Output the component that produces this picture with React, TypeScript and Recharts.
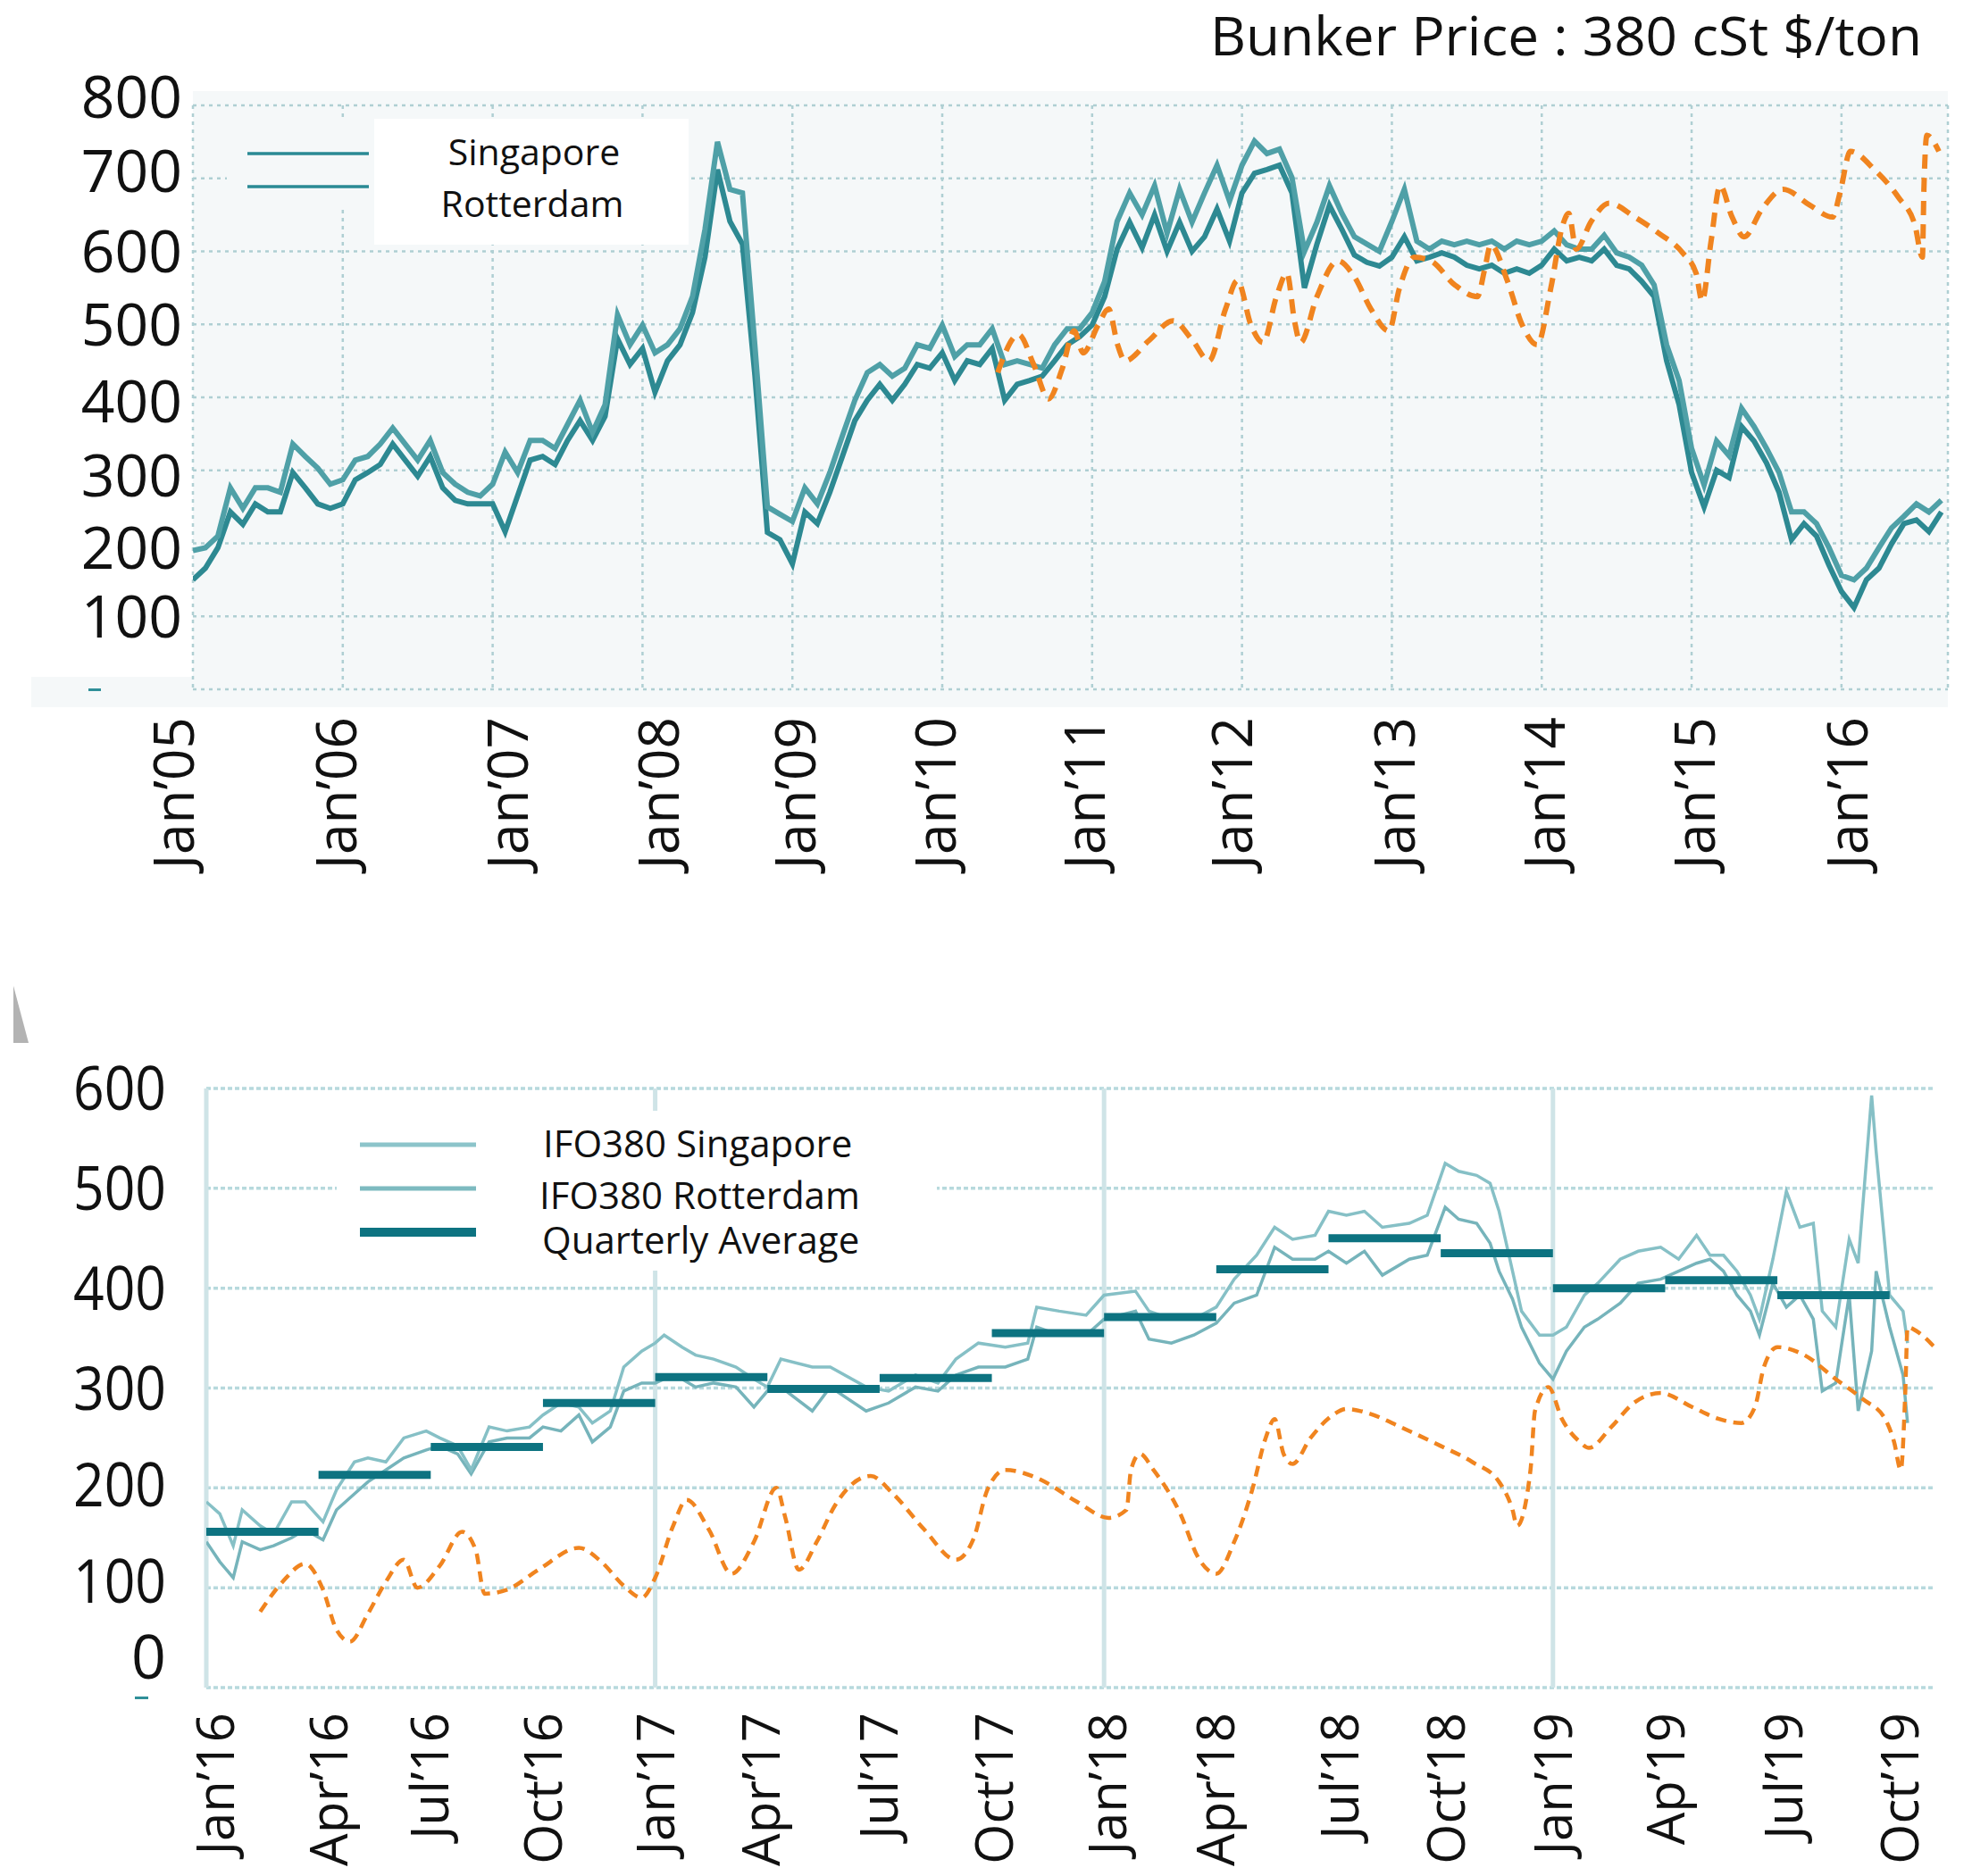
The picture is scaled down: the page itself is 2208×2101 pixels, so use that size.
import {
  LineChart,
  Line,
  XAxis,
  YAxis,
  CartesianGrid,
  ReferenceLine,
} from "recharts";

const FONT = "'Open Sans', 'Noto Sans', sans-serif";

// ---------- top chart : 380 cSt, monthly from Jan'05 ----------
const topStartYear = 2005;

const topSingapore = [
  190, 194, 210, 276, 248, 276, 276, 270, 336, 319, 303, 281,
  287, 314, 319, 336, 358, 336, 314, 341, 297, 281, 270, 265,
  281, 325, 297, 341, 341, 330, 363, 396, 352, 390, 513, 472,
  499, 461, 472, 494, 538, 630, 750, 685, 680, 470, 250, 240,
  230, 276, 254, 297, 347, 396, 434, 445, 429, 440, 472, 467,
  499, 456, 472, 472, 494, 445, 450, 445, 440, 472, 494, 494,
  516, 559, 641, 680, 650, 690, 625, 685, 640, 680, 718, 669,
  718, 751, 734, 740, 701, 600, 640, 690, 652, 620, 610, 600,
  641, 685, 614, 603, 614, 609, 614, 609, 614, 603, 614, 609,
  614, 628, 609, 603, 603, 622, 598, 592, 581, 554, 472, 423,
  330, 280, 340, 320, 385, 360, 330, 297, 243, 243, 227, 194,
  156, 150, 166, 194, 221, 237, 254, 243, 259,
];

const topRotterdam = [
  150, 166, 194, 243, 226, 254, 243, 243, 297, 276, 254, 248,
  254, 287, 297, 308, 336, 314, 292, 319, 276, 259, 254, 254,
  254, 216, 265, 314, 319, 308, 341, 368, 341, 374, 480, 445,
  467, 407, 450, 472, 516, 592, 712, 641, 610, 430, 215, 205,
  172, 243, 227, 270, 319, 368, 396, 418, 396, 418, 445, 440,
  461, 423, 450, 445, 467, 396, 418, 423, 429, 450, 472, 483,
  499, 538, 603, 640, 605, 650, 600, 640, 600, 620, 658, 614,
  680, 707, 712, 718, 680, 550, 610, 663, 630, 595, 585, 580,
  592, 620, 587, 592, 598, 592, 581, 576, 581, 570, 576, 570,
  581, 603, 587, 592, 587, 603, 581, 576, 559, 538, 450, 390,
  297, 250, 300, 290, 360, 340, 310, 270, 205, 227, 210, 170,
  134, 112, 150, 166, 199, 227, 232, 216, 243,
];

const topTrendDates = [
  2010.37, 2010.51, 2010.61, 2010.71, 2010.8, 2010.88, 2010.94, 2011.04,
  2011.11, 2011.17, 2011.22, 2011.38, 2011.54, 2011.67, 2011.78, 2011.89,
  2011.97, 2012.06, 2012.14, 2012.23, 2012.3, 2012.35, 2012.39, 2012.5,
  2012.64, 2012.75, 2012.86, 2012.98, 2013.05, 2013.15, 2013.26, 2013.42,
  2013.57, 2013.62, 2013.66, 2013.77, 2013.87, 2013.97, 2014.06, 2014.14,
  2014.18, 2014.23, 2014.33, 2014.45, 2014.62, 2014.78, 2014.94, 2015.03,
  2015.07, 2015.13, 2015.19, 2015.27, 2015.35, 2015.47, 2015.61, 2015.79,
  2015.94, 2015.99, 2016.06, 2016.22, 2016.38, 2016.49, 2016.54, 2016.55,
  2016.57, 2016.65,
];
const topTrendValues = [
  434, 486, 445, 398, 439, 491, 461, 499,
  521, 472, 450, 478, 505, 478, 450, 521,
  560, 499, 475, 538, 570, 505, 475, 538,
  587, 565, 521, 491, 549, 592, 587, 554,
  538, 576, 609, 560, 499, 472, 549, 636,
  652, 603, 641, 666, 647, 625, 598, 570,
  532, 614, 690, 647, 620, 658, 685, 663,
  647, 680, 737, 712, 674, 636, 592, 685,
  759, 737,
];

const topYearTicks = [2005, 2006, 2007, 2008, 2009, 2010, 2011, 2012, 2013, 2014, 2015, 2016];
const topYearLabels = [
  "Jan’05", "Jan’06", "Jan’07", "Jan’08", "Jan’09", "Jan’10",
  "Jan’11", "Jan’12", "Jan’13", "Jan’14", "Jan’15", "Jan’16",
];
const topValueTicks = [0, 100, 200, 300, 400, 500, 600, 700, 800];

// ---------- bottom chart : IFO380 2016 - 2019 ----------
const bottomDates = [
  2016.0, 2016.03, 2016.06, 2016.08, 2016.12, 2016.15, 2016.19, 2016.22, 2016.26, 2016.29,
  2016.33, 2016.36, 2016.4, 2016.44, 2016.49, 2016.52, 2016.56, 2016.59, 2016.63, 2016.67,
  2016.72, 2016.75, 2016.79, 2016.83, 2016.86, 2016.9, 2016.93, 2016.97, 2017.0, 2017.02,
  2017.06, 2017.09, 2017.13, 2017.18, 2017.22, 2017.25, 2017.28, 2017.35, 2017.39, 2017.47,
  2017.52, 2017.58, 2017.63, 2017.67, 2017.72, 2017.78, 2017.83, 2017.85, 2017.9, 2017.96,
  2018.0, 2018.07, 2018.1, 2018.15, 2018.2, 2018.25, 2018.29, 2018.34, 2018.38, 2018.42,
  2018.47, 2018.5, 2018.54, 2018.58, 2018.62, 2018.68, 2018.72, 2018.76, 2018.79, 2018.83,
  2018.86, 2018.88, 2018.91, 2018.93, 2018.97, 2019.0, 2019.03, 2019.07, 2019.1, 2019.15,
  2019.19, 2019.24, 2019.28, 2019.32, 2019.35, 2019.38, 2019.41, 2019.44, 2019.46, 2019.49,
  2019.52, 2019.55, 2019.58, 2019.6, 2019.63, 2019.66, 2019.68, 2019.71, 2019.72, 2019.75,
  2019.78, 2019.79,
];
const bottomSingapore = [
  186, 174, 142, 178, 162, 154, 186, 186, 166, 198,
  226, 230, 226, 250, 257, 250, 242, 218, 261, 257,
  261, 273, 285, 281, 265, 277, 321, 337, 345, 353,
  341, 333, 329, 321, 309, 301, 329, 321, 321, 301,
  297, 313, 305, 329, 345, 341, 345, 381, 377, 373,
  393, 397, 377, 369, 369, 381, 409, 433, 461, 449,
  453, 477, 473, 477, 461, 465, 473, 525, 517, 513,
  505, 477, 417, 377, 353, 353, 361, 393, 405, 429,
  437, 441, 429, 453, 433, 433, 417, 393, 369, 429,
  497, 461, 465, 377, 361, 449, 425, 593, 537, 393,
  377, 345,
];
const bottomRotterdam = [
  146, 126, 110, 146, 138, 142, 150, 158, 148, 178,
  194, 206, 218, 230, 238, 242, 234, 214, 246, 250,
  250, 261, 257, 273, 246, 261, 297, 305, 305, 309,
  309, 301, 305, 301, 281, 297, 301, 277, 301, 277,
  285, 301, 297, 313, 321, 321, 329, 361, 353, 353,
  369, 377, 349, 345, 353, 365, 385, 393, 441, 429,
  429, 437, 425, 437, 413, 429, 433, 481, 469, 465,
  445, 417, 389, 361, 325, 309, 337, 361, 369, 385,
  405, 409, 417, 425, 429, 417, 393, 377, 353, 405,
  381, 393, 369, 297, 305, 393, 277, 337, 417, 361,
  313, 265,
];

const quarterStarts = [
  2016, 2016.25, 2016.5, 2016.75, 2017, 2017.25, 2017.5, 2017.75,
  2018, 2018.25, 2018.5, 2018.75, 2019, 2019.25, 2019.5,
];
const quarterAvg = [156, 213, 241, 285, 311, 299, 310, 355, 371, 419, 450, 435, 400, 408, 393];

const bottomTrendDates = [
  2016.12, 2016.17, 2016.22, 2016.26, 2016.29, 2016.32, 2016.36, 2016.4, 2016.44, 2016.47,
  2016.52, 2016.57, 2016.6, 2016.62, 2016.67, 2016.74, 2016.83, 2016.88, 2016.93, 2016.97,
  2017.0, 2017.04, 2017.07, 2017.12, 2017.17, 2017.22, 2017.27, 2017.29, 2017.32, 2017.36,
  2017.4, 2017.48, 2017.53, 2017.6, 2017.67, 2017.71, 2017.74, 2017.78, 2017.85, 2017.94,
  2018.01, 2018.05, 2018.06, 2018.08, 2018.11, 2018.17, 2018.21, 2018.25, 2018.29, 2018.33,
  2018.36, 2018.38, 2018.4, 2018.42, 2018.46, 2018.51, 2018.54, 2018.6, 2018.66, 2018.75,
  2018.82, 2018.88, 2018.91, 2018.92, 2018.95, 2018.96, 2018.99, 2019.02, 2019.06, 2019.08,
  2019.13, 2019.18, 2019.24, 2019.31, 2019.37, 2019.42, 2019.45, 2019.47, 2019.5, 2019.56,
  2019.63, 2019.69, 2019.74, 2019.76, 2019.775, 2019.785, 2019.79, 2019.81, 2019.85,
];
const bottomTrendValues = [
  76, 106, 124, 98, 58, 46, 74, 106, 128, 100,
  122, 156, 138, 94, 98, 118, 140, 126, 102, 90,
  110, 162, 188, 158, 114, 146, 200, 170, 118, 146,
  182, 212, 194, 158, 128, 150, 198, 218, 210, 186,
  170, 178, 218, 234, 218, 174, 130, 114, 146, 198,
  250, 269, 234, 224, 250, 273, 279, 273, 261, 242,
  226, 206, 178, 162, 218, 277, 301, 269, 246, 240,
  261, 285, 295, 281, 269, 265, 281, 321, 341, 333,
  309, 289, 269, 246, 218, 297, 361, 357, 341,
];

const quarterTicks = [
  2016, 2016.25, 2016.5, 2016.75, 2017, 2017.25, 2017.5, 2017.75,
  2018, 2018.25, 2018.5, 2018.75, 2019, 2019.25, 2019.5, 2019.75,
];
const quarterLabels = [
  "Jan’16", "Apr’16", "Jul’16", "Oct’16", "Jan’17", "Apr’17", "Jul’17", "Oct’17",
  "Jan’18", "Apr’18", "Jul’18", "Oct’18", "Jan’19", "Ap’19", "Jul’19", "Oct’19",
];
const bottomValueTicks = [0, 100, 200, 300, 400, 500, 600];
const bottomYearLines = [2016, 2017, 2018, 2019];

// ---------- derived series ----------
const topMonthly = topSingapore.map((sg, i) => ({
  t: topStartYear + i / 12,
  sg,
  rt: topRotterdam[i],
}));
const topTrend = topTrendDates.map((t, i) => ({ t, v: topTrendValues[i] }));

const bottomDaily = bottomDates.map((t, i) => ({
  t,
  sg: bottomSingapore[i],
  rt: bottomRotterdam[i],
}));
const bottomTrend = bottomTrendDates.map((t, i) => ({ t, v: bottomTrendValues[i] }));
const quarterSteps = quarterStarts.flatMap((t, i) => [
  { t, v: quarterAvg[i] as number | null },
  { t: t + 0.25, v: quarterAvg[i] as number | null },
  { t: t + 0.25, v: null },
]);

// layout
const TOP_H = 1010;
const TOP_PLOT_BOTTOM = 772;
const BOT_H = 1001;
const BOT_PLOT_BOTTOM = 790;

// small label shifts, the source image has its labels slightly off the grid
const topYNudge: Record<number, number> = { 800: -10, 700: -9, 400: 4, 300: 5, 200: 5 };
const botYNudge: Record<number, number> = { 0: -34, 100: -8, 200: -4 };
const topXNudge = [-21, -7, 17, 18, 3, -7, -8, -11, 3, 3, 4, 7];
const botXNudge = [10, 11, -1, 0, 1, -7, -1, 3, 4, -1, 13, 6, 0, 1, 7, 11];

function TopYTick(props: any) {
  const { y, payload } = props;
  const v = payload.value;
  if (v === 0) {
    return <rect x={99} y={y - 1} width={14} height={3} fill="#2f8f98" />;
  }
  return (
    <text
      x={204}
      y={y + (topYNudge[v] ?? 0)}
      dy="0.36em"
      textAnchor="end"
      fontSize={66}
      fontFamily={FONT}
      fill="#111"
    >
      {v}
    </text>
  );
}

function TopXTick(props: any) {
  const { x, payload } = props;
  const i = topYearTicks.indexOf(payload.value);
  return (
    <text
      transform={`translate(${x + topXNudge[i]},${TOP_PLOT_BOTTOM + 31}) rotate(-90)`}
      dy="0.36em"
      textAnchor="end"
      fontSize={62}
      fontFamily={FONT}
      fill="#111"
    >
      {topYearLabels[i]}
    </text>
  );
}

function BottomYTick(props: any) {
  const { y, payload } = props;
  const v = payload.value;
  const label = (
    <text
      x={186}
      y={y + (botYNudge[v] ?? 0)}
      dy="0.36em"
      textAnchor="end"
      fontSize={68}
      fontFamily={FONT}
      fill="#111"
      textLength={v === 0 ? undefined : 104}
      lengthAdjust="spacingAndGlyphs"
    >
      {v}
    </text>
  );
  if (v === 0) {
    return (
      <g>
        {label}
        <rect x={151} y={y + 10} width={15} height={3} fill="#2f8f98" />
      </g>
    );
  }
  return label;
}

function BottomXTick(props: any) {
  const { x, payload } = props;
  const i = quarterTicks.indexOf(payload.value);
  return (
    <text
      transform={`translate(${x + botXNudge[i]},${BOT_PLOT_BOTTOM + 28}) rotate(-90)`}
      dy="0.36em"
      textAnchor="end"
      fontSize={58}
      fontFamily={FONT}
      fill="#111"
    >
      {quarterLabels[i]}
    </text>
  );
}

function TopChart() {
  return (
    <LineChart
      width={2208}
      height={TOP_H}
      margin={{ top: 118, right: 27, bottom: 8, left: 0 }}
    >
      <CartesianGrid stroke="#afcfd3" strokeWidth={2.5} strokeDasharray="4 5" />
      <XAxis
        type="number"
        dataKey="t"
        domain={[2005, 2016.71]}
        ticks={topYearTicks}
        interval={0}
        allowDataOverflow
        height={TOP_H - 8 - TOP_PLOT_BOTTOM}
        axisLine={false}
        tickLine={false}
        tick={(p: any) => <TopXTick {...p} />}
      />
      <YAxis
        type="number"
        domain={[0, 800]}
        ticks={topValueTicks}
        interval={0}
        width={216}
        axisLine={false}
        tickLine={false}
        tick={(p: any) => <TopYTick {...p} />}
      />
      <Line
        data={topMonthly}
        dataKey="rt"
        type="linear"
        stroke="#2d8992"
        strokeWidth={6}
        dot={false}
        isAnimationActive={false}
      />
      <Line
        data={topMonthly}
        dataKey="sg"
        type="linear"
        stroke="#4fa0a7"
        strokeWidth={6}
        dot={false}
        isAnimationActive={false}
      />
      <Line
        data={topTrend}
        dataKey="v"
        type="monotone"
        stroke="#f0841f"
        strokeWidth={6}
        strokeDasharray="16 10"
        dot={false}
        isAnimationActive={false}
      />
    </LineChart>
  );
}

function BottomChart() {
  return (
    <LineChart
      width={2208}
      height={BOT_H}
      margin={{ top: 119, right: 42, bottom: 8, left: 0 }}
    >
      <CartesianGrid
        vertical={false}
        stroke="#b7d9dd"
        strokeWidth={3.5}
        strokeDasharray="5 3"
      />
      {bottomYearLines.map((yr) => (
        <ReferenceLine key={yr} x={yr} stroke="#cfe4e7" strokeWidth={5} />
      ))}
      <XAxis
        type="number"
        dataKey="t"
        domain={[2016, 2019.85]}
        ticks={quarterTicks}
        interval={0}
        allowDataOverflow
        height={BOT_H - 8 - BOT_PLOT_BOTTOM}
        axisLine={false}
        tickLine={false}
        tick={(p: any) => <BottomXTick {...p} />}
      />
      <YAxis
        type="number"
        domain={[0, 600]}
        ticks={bottomValueTicks}
        interval={0}
        width={231}
        axisLine={false}
        tickLine={false}
        tick={(p: any) => <BottomYTick {...p} />}
      />
      <Line
        data={bottomDaily}
        dataKey="rt"
        type="linear"
        stroke="#76b4bb"
        strokeWidth={3.5}
        dot={false}
        isAnimationActive={false}
      />
      <Line
        data={bottomDaily}
        dataKey="sg"
        type="linear"
        stroke="#86c0c6"
        strokeWidth={3.5}
        dot={false}
        isAnimationActive={false}
      />
      <Line
        data={quarterSteps}
        dataKey="v"
        type="linear"
        stroke="#0d7381"
        strokeWidth={9}
        dot={false}
        connectNulls={false}
        isAnimationActive={false}
      />
      <Line
        data={bottomTrend}
        dataKey="v"
        type="monotone"
        stroke="#f0841f"
        strokeWidth={4.5}
        strokeDasharray="12 8"
        dot={false}
        isAnimationActive={false}
      />
    </LineChart>
  );
}

export default function App() {
  return (
    <div
      style={{
        position: "absolute",
        left: 0,
        top: 0,
        width: 2208,
        height: 2101,
        background: "#fff",
        overflow: "hidden",
      }}
    >
      {/* plot panel of the upper chart */}
      <div style={{ position: "absolute", left: 216, top: 102, width: 1965, height: 690, background: "#f5f8f9" }} />
      <div style={{ position: "absolute", left: 35, top: 758, width: 181, height: 34, background: "#f5f8f9" }} />

      <div style={{ position: "absolute", left: 0, top: 0 }}>
        <TopChart />
      </div>
      <div style={{ position: "absolute", left: 0, top: 1100 }}>
        <BottomChart />
      </div>

      <svg
        width={2208}
        height={2101}
        style={{ position: "absolute", left: 0, top: 0, pointerEvents: "none" }}
      >
        <text
          x={2152}
          y={62}
          textAnchor="end"
          fontSize={60}
          fontFamily={FONT}
          fill="#111"
          textLength={797}
          lengthAdjust="spacingAndGlyphs"
        >
          Bunker Price : 380 cSt $/ton
        </text>

        {/* upper legend */}
        <rect x={254} y={133} width={165} height={97} fill="#f5f8f9" />
        <rect x={419} y={133} width={352} height={141} fill="#ffffff" />
        <line x1={277} x2={413} y1={172} y2={172} stroke="#2a8a94" strokeWidth={3.5} />
        <line x1={277} x2={413} y1={209} y2={209} stroke="#2a8a94" strokeWidth={3.5} />
        <text x={598} y={185} textAnchor="middle" fontSize={41} fontFamily={FONT} fill="#111">
          Singapore
        </text>
        <text x={596} y={243} textAnchor="middle" fontSize={41} fontFamily={FONT} fill="#111">
          Rotterdam
        </text>

        {/* lower legend */}
        <rect x={377} y={1244} width={672} height={179} fill="#ffffff" />
        <line x1={403} x2={533} y1={1282} y2={1282} stroke="#8cc4ca" strokeWidth={5} />
        <line x1={403} x2={533} y1={1331} y2={1331} stroke="#7dbac0" strokeWidth={5} />
        <line x1={403} x2={533} y1={1380} y2={1380} stroke="#0d7381" strokeWidth={10} />
        <text x={608} y={1296} fontSize={42} fontFamily={FONT} fill="#111">
          IFO380 Singapore
        </text>
        <text x={604} y={1354} fontSize={42} fontFamily={FONT} fill="#111">
          IFO380 Rotterdam
        </text>
        <text x={607} y={1404} fontSize={42} fontFamily={FONT} fill="#111">
          Quarterly Average
        </text>

        <polygon points="15,1104 15,1168 32,1168" fill="#b3b3b3" />
      </svg>
    </div>
  );
}
